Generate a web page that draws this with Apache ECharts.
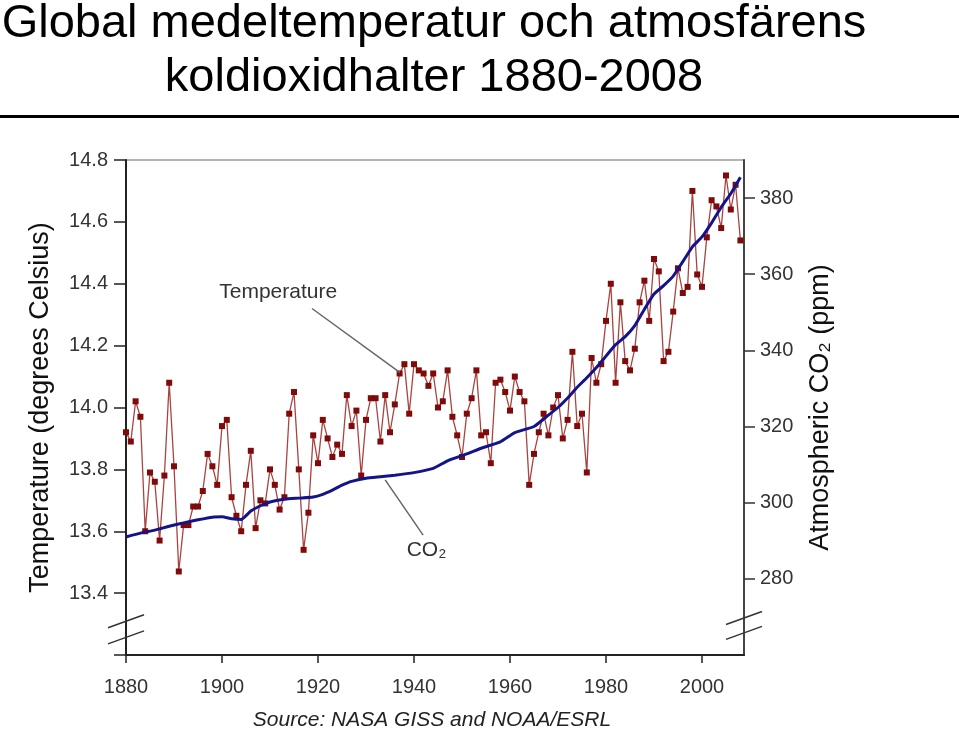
<!DOCTYPE html>
<html><head><meta charset="utf-8">
<script src="https://cdn.jsdelivr.net/npm/echarts@6/dist/echarts.min.js"></script>
<style>html,body{margin:0;padding:0;background:#fff}#c{width:959px;height:738px}</style>
</head><body><div id="c"></div>
<script>
// ---------- data ----------
const FIRST_YEAR = 1880;
// Global mean temperature (°C), one value per year 1880..2008
const temperature = [
  13.92, 13.89, 14.02, 13.97, 13.60, 13.79, 13.76, 13.57, 13.78, 14.08,
  13.81, 13.47, 13.62, 13.62, 13.68, 13.68, 13.73, 13.85, 13.81, 13.75,
  13.94, 13.96, 13.71, 13.65, 13.60, 13.75, 13.86, 13.61, 13.70, 13.69,
  13.80, 13.75, 13.67, 13.71, 13.98, 14.05, 13.80, 13.54, 13.66, 13.91,
  13.82, 13.96, 13.90, 13.84, 13.88, 13.85, 14.04, 13.94, 13.99, 13.78,
  13.96, 14.03, 14.03, 13.89, 14.04, 13.92, 14.01, 14.11, 14.14, 13.98,
  14.14, 14.12, 14.11, 14.07, 14.11, 14.00, 14.02, 14.12, 13.97, 13.91,
  13.84, 13.98, 14.03, 14.12, 13.91, 13.92, 13.82, 14.08, 14.09, 14.05,
  13.99, 14.10, 14.05, 14.02, 13.75, 13.85, 13.92, 13.98, 13.91, 14.00,
  14.04, 13.90, 13.96, 14.18, 13.94, 13.98, 13.79, 14.16, 14.08, 14.14,
  14.28, 14.40, 14.08, 14.34, 14.15, 14.12, 14.19, 14.34, 14.41, 14.28,
  14.48, 14.44, 14.15, 14.18, 14.31, 14.45, 14.37, 14.39, 14.70, 14.43,
  14.39, 14.55, 14.67, 14.65, 14.58, 14.75, 14.64, 14.72, 14.54
];
// Atmospheric CO2 (ppm)
const co2Years = [1880, 1883, 1886, 1889, 1892, 1895, 1898, 1900, 1902, 1904,
  1906, 1908, 1910, 1913, 1916, 1919, 1921, 1923, 1925, 1927,
  1930, 1933, 1936, 1940, 1944, 1947, 1951, 1954, 1958, 1961,
  1965, 1968, 1970, 1972, 1974, 1976, 1978, 1980, 1982, 1984,
  1986, 1988, 1990, 1992, 1994, 1996, 1998, 2000, 2002, 2004, 2006, 2008];
const co2Ppm = [291.0, 292.0, 292.8, 293.8, 294.7, 295.5, 296.2, 296.3, 295.8, 295.6,
  297.8, 299.2, 300.2, 300.9, 301.2, 301.5, 302.2, 303.3, 304.6, 305.6,
  306.4, 306.8, 307.2, 307.9, 309.0, 311.0, 312.8, 314.3, 316.0, 318.4,
  320.0, 323.0, 325.0, 327.5, 330.3, 332.8, 335.5, 338.5, 341.5, 343.6,
  346.5, 350.8, 354.8, 357.0, 359.5, 363.3, 367.2, 369.8, 373.5, 377.6, 381.2, 385.5];

const yearTicks = [1880, 1900, 1920, 1940, 1960, 1980, 2000];
const tempTicks = [13.2, 13.4, 13.6, 13.8, 14.0, 14.2, 14.4, 14.6, 14.8];
const tempLabels = [13.4, 13.6, 13.8, 14.0, 14.2, 14.4, 14.6, 14.8];
const co2Ticks = [280, 300, 320, 340, 360, 380];

const titleText = 'Global medeltemperatur och atmosfärens\nkoldioxidhalter 1880-2008';
const sourceText = 'Source: NASA GISS and NOAA/ESRL';
const leftAxisName = 'Temperature (degrees Celsius)';
const rightAxisName = 'Atmospheric CO₂ (ppm)';
const tempAnnotation = 'Temperature';
const co2Annotation = 'CO₂';

// ---------- chart ----------
const FONT = '"Liberation Sans", Arial, Helvetica, sans-serif';
const tempData = temperature.map((v, i) => [FIRST_YEAR + i, v]);
const co2Data = co2Years.map((y, i) => [y, co2Ppm[i]]);

const chart = echarts.init(document.getElementById('c'), null, {renderer: 'canvas'});

const tickLbl = {fontSize: 20, color: '#333', fontFamily: FONT};

const option = {
  animation: false,
  backgroundColor: '#ffffff',
  grid: {left: 126, top: 160, width: 618, height: 495, show: true,
         borderColor: '#9a9a9a', borderWidth: 1.5, backgroundColor: 'transparent', containLabel: false},
  xAxis: {
    type: 'value', min: 1880, max: 2008.75, interval: 20,
    axisLine: {lineStyle: {color: '#222', width: 2}},
    axisTick: {length: 8, lineStyle: {color: '#222', width: 1.5}, customValues: yearTicks},
    axisLabel: Object.assign({margin: 22, customValues: yearTicks,
      formatter: v => (yearTicks.indexOf(Math.round(v)) >= 0 && Math.abs(v - Math.round(v)) < 1e-6) ? String(Math.round(v)) : ''}, tickLbl),
    splitLine: {show: false}
  },
  yAxis: [{
    type: 'value', position: 'left', min: 13.2, max: 14.8, interval: 0.2,
    name: leftAxisName, nameLocation: 'middle', nameGap: 72, nameRotate: 90,
    nameTextStyle: {fontSize: 27, color: '#111', fontFamily: FONT},
    axisLine: {show: true, lineStyle: {color: '#222', width: 2}},
    axisTick: {show: true, length: 12, lineStyle: {color: '#222', width: 1.5}, customValues: tempTicks},
    axisLabel: Object.assign({margin: 18, customValues: tempLabels,
      formatter: v => v < 13.3 ? '' : v.toFixed(1)}, tickLbl),
    splitLine: {show: false}
  }, {
    type: 'value', position: 'right', min: 260, max: 390, interval: 20,
    name: rightAxisName, nameLocation: 'middle', nameGap: 63, nameRotate: 90,
    nameTextStyle: {fontSize: 27, color: '#111', fontFamily: FONT},
    axisLine: {show: true, lineStyle: {color: '#444', width: 2}},
    axisTick: {show: true, length: 11, lineStyle: {color: '#333', width: 1.5}, customValues: co2Ticks},
    axisLabel: Object.assign({margin: 16, customValues: co2Ticks,
      formatter: v => (co2Ticks.indexOf(v) >= 0 ? String(v) : '')}, tickLbl),
    splitLine: {show: false}
  }],
  series: [{
    name: 'Temperature', type: 'line', yAxisIndex: 0, data: tempData,
    symbol: 'rect', symbolSize: 6, showAllSymbol: true,
    lineStyle: {color: '#a8443f', width: 1.3},
    itemStyle: {color: '#800a0a'},
    z: 3
  }, {
    name: 'CO2', type: 'line', yAxisIndex: 1, data: co2Data,
    symbol: 'none', smooth: 0.15,
    lineStyle: {color: '#14148a', width: 3},
    z: 4
  }]
};
chart.setOption(option);

// ---------- annotations positioned from data coordinates ----------
const px = (x, y, yi) => chart.convertToPixel({xAxisIndex: 0, yAxisIndex: yi}, [x, y]);
const tLeadA = px(1918.75, 14.32, 0), tLeadB = px(1937.1, 14.113, 0);
const tText = px(1911.7, 14.372, 0);
const cLeadA = px(1934.0, 306.0, 1), cLeadB = px(1941.9, 291.5, 1);
const cText = px(1942.6, 287.6, 1);
const axL = px(1880, 13.309, 0)[0];
const axR = px(2008.75, 270, 1)[0];
const bl1 = px(1880, 13.309, 0)[1], bl2 = px(1880, 13.257, 0)[1];
const br1 = px(2008.75, 269.7, 1)[1], br2 = px(2008.75, 265.8, 1)[1];
const brk = (cx, cy) => ({type: 'line', shape: {x1: cx - 18, y1: cy + 6.5, x2: cx + 18, y2: cy - 6.5},
  style: {stroke: '#333', lineWidth: 1.5}, z: 10});

chart.setOption({
  graphic: [
    {type: 'text', x: 434, y: 51, style: {text: titleText, font: '47px ' + FONT, fill: '#000',
      textAlign: 'center', textVerticalAlign: 'middle', lineHeight: 54}},
    {type: 'rect', shape: {x: 0, y: 115, width: 959, height: 3}, style: {fill: '#000'}},
    {type: 'text', x: 432, y: 720, style: {text: sourceText, font: 'italic 21px ' + FONT, fill: '#222',
      textAlign: 'center', textVerticalAlign: 'middle'}},
    {type: 'line', shape: {x1: tLeadA[0], y1: tLeadA[1], x2: tLeadB[0], y2: tLeadB[1]},
      style: {stroke: '#666', lineWidth: 1.5}, z: 5},
    {type: 'text', x: tText[0], y: tText[1], style: {text: tempAnnotation, font: '21px ' + FONT, fill: '#333',
      textAlign: 'center', textVerticalAlign: 'middle'}, z: 5},
    {type: 'line', shape: {x1: cLeadA[0], y1: cLeadA[1], x2: cLeadB[0], y2: cLeadB[1]},
      style: {stroke: '#666', lineWidth: 1.5}, z: 5},
    {type: 'text', x: cText[0], y: cText[1], style: {text: co2Annotation, font: '21px ' + FONT, fill: '#333',
      textAlign: 'center', textVerticalAlign: 'middle'}, z: 5},
    brk(axL, bl1), brk(axL, bl2), brk(axR, br1), brk(axR, br2)
  ]
});
</script></body></html>
